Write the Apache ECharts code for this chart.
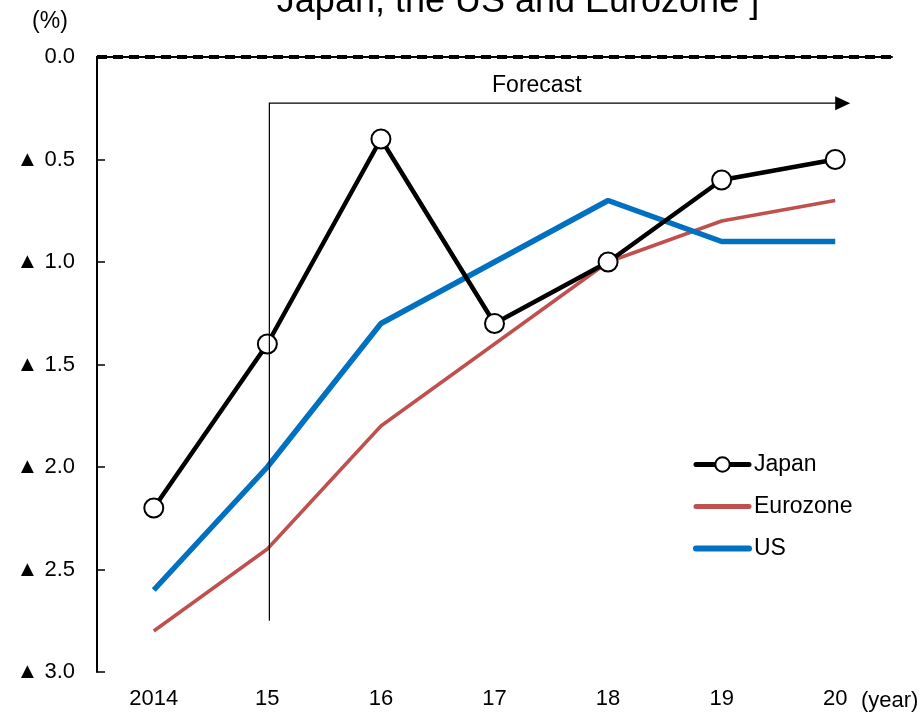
<!DOCTYPE html>
<html>
<head>
<meta charset="utf-8">
<script src="https://cdn.jsdelivr.net/npm/echarts@6/dist/echarts.min.js"></script>
<style>
  html, body { margin: 0; padding: 0; background: #fff; }
  #chart { width: 923px; height: 715px; }
</style>
</head>
<body>
<div id="chart"></div>
<script>
// Growth outlook, negative values drawn downward from 0
const years = ['2014', '15', '16', '17', '18', '19', '20'];
const japan = [-2.2, -1.4, -0.4, -1.3, -1.0, -0.6, -0.5];
const eurozone = [-2.8, -2.4, -1.8, -1.4, -1.0, -0.8, -0.7];
const us = [-2.6, -2.0, -1.3, -1.0, -0.7, -0.9, -0.9];
const forecastStart = 1;      // index of '15'
const forecastLevel = -0.225; // height of the Forecast arrow
const forecastFloor = -2.75;  // bottom of the Forecast marker line

const FONT = 'Liberation Sans, Arial, sans-serif';
const chart = echarts.init(document.getElementById('chart'), null, { renderer: 'canvas' });

chart.setOption({
  animation: false,
  grid: { left: 97, top: 57, right: 31, bottom: 43, containLabel: false },
  xAxis: {
    type: 'category',
    data: years,
    boundaryGap: true,
    axisLine: { lineStyle: { color: '#000', width: 2 } },
    axisTick: { inside: true, length: 8, lineStyle: { color: '#000', width: 1.5 } },
    axisLabel: { color: '#000', fontFamily: FONT, fontSize: 22, margin: 16 },
    splitLine: { show: false }
  },
  yAxis: {
    type: 'value',
    min: -3,
    max: 0,
    interval: 0.5,
    axisLine: { show: true, lineStyle: { color: '#000', width: 2 } },
    axisTick: { show: true, inside: true, length: 8, lineStyle: { color: '#000', width: 1.5 } },
    axisLabel: {
      color: '#000', fontFamily: FONT, fontSize: 22, margin: 22,
      formatter: v => (v === 0 ? '0.0' : '\u25B2 ' + Math.abs(v).toFixed(1))
    },
    splitLine: { show: false }
  },
  legend: {
    orient: 'vertical',
    left: 688,
    top: 448,
    itemWidth: 53,
    itemHeight: 18,
    itemGap: 19,
    textStyle: { color: '#000', fontFamily: FONT, fontSize: 23, padding: [2, 0, 0, 0] },
    data: [
      { name: 'Japan', lineStyle: { width: 5, cap: 'round' } },
      { name: 'Eurozone', lineStyle: { width: 5, cap: 'round' }, itemStyle: { opacity: 0 } },
      { name: 'US', lineStyle: { width: 6, cap: 'round' }, itemStyle: { opacity: 0 } }
    ]
  },
  series: [
    {
      name: 'Eurozone', type: 'line', data: eurozone,
      symbol: 'none', z: 2,
      lineStyle: { color: '#C0504D', width: 3.5 },
      itemStyle: { color: '#C0504D' }
    },
    {
      name: 'US', type: 'line', data: us,
      symbol: 'none', z: 3,
      lineStyle: { color: '#0070C0', width: 5.5 },
      itemStyle: { color: '#0070C0' }
    },
    {
      name: 'Japan', type: 'line', data: japan,
      symbol: 'circle', symbolSize: 19, z: 4,
      lineStyle: { color: '#000', width: 4.5 },
      itemStyle: { color: '#fff', borderColor: '#000', borderWidth: 2 }
    }
  ]
});

// Overlays positioned through the chart's own scales
const step = chart.convertToPixel({ xAxisIndex: 0 }, 1) - chart.convertToPixel({ xAxisIndex: 0 }, 0);
const zeroY = chart.convertToPixel({ yAxisIndex: 0 }, 0);
const gridLeft = chart.convertToPixel({ xAxisIndex: 0 }, 0) - step / 2;
const gridRight = chart.convertToPixel({ xAxisIndex: 0 }, years.length - 1) + step / 2;
const fx = chart.convertToPixel({ xAxisIndex: 0 }, forecastStart) + 2;
const fEnd = chart.convertToPixel({ xAxisIndex: 0 }, years.length - 1) + 15;
const fy = chart.convertToPixel({ yAxisIndex: 0 }, forecastLevel);
const fBottom = chart.convertToPixel({ yAxisIndex: 0 }, forecastFloor);

chart.setOption({
  graphic: [
    {
      type: 'line', z: 10,
      shape: { x1: gridLeft, y1: zeroY, x2: gridRight, y2: zeroY },
      style: { stroke: '#000', lineWidth: 4, lineDash: [10, 6] }
    },
    {
      type: 'polyline', z: 10,
      shape: { points: [[fx, fBottom], [fx, fy], [fEnd - 12, fy]] },
      style: { stroke: '#000', lineWidth: 1.2, fill: null }
    },
    {
      type: 'polygon', z: 10,
      shape: { points: [[fEnd - 15, fy - 7], [fEnd, fy], [fEnd - 15, fy + 7]] },
      style: { fill: '#000' }
    },
    {
      type: 'text', z: 10,
      x: (fx + fEnd) / 2 - 23, y: fy - 6,
      style: { text: 'Forecast', fill: '#000', font: '23px ' + FONT, align: 'center', verticalAlign: 'bottom' }
    },
    {
      type: 'text', z: 10,
      x: 50, y: 22,
      style: { text: '(%)', fill: '#000', font: '23px ' + FONT, align: 'center', verticalAlign: 'middle' }
    },
    {
      type: 'text', z: 10,
      x: 861, y: 701,
      style: { text: '(year)', fill: '#000', font: '22px ' + FONT, align: 'left', verticalAlign: 'middle' }
    },
    {
      type: 'text', z: 10,
      x: 518, y: 20,
      style: { text: 'Japan, the US and Eurozone ]', fill: '#000', font: '36px ' + FONT, align: 'center', verticalAlign: 'bottom' }
    }
  ]
});
</script>
</body>
</html>
